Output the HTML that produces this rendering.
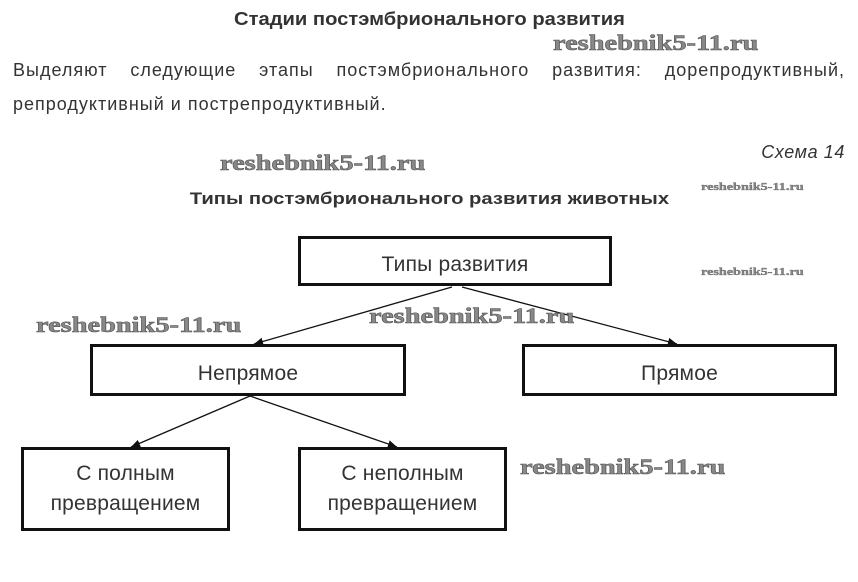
<!DOCTYPE html>
<html><head><meta charset="utf-8"><style>
body{margin:0;width:858px;height:582px;background:#fff;position:relative;overflow:hidden;font-family:"Liberation Sans",sans-serif;color:#222}
.a{position:absolute;white-space:nowrap}
.c{position:absolute;left:0;width:858px;text-align:center;white-space:nowrap}
.c span{display:inline-block}
.w{position:absolute;font-family:"Liberation Serif",serif;font-weight:bold;color:#888;-webkit-text-stroke:0.6px #555;white-space:nowrap;transform:scaleX(1.29);transform-origin:left top}
.box{position:absolute;border:3px solid #111;box-sizing:border-box;display:flex;align-items:center;justify-content:center;text-align:center;font-size:21px;letter-spacing:0.2px;color:#333;line-height:30px;padding-top:8px}
</style></head><body>
<div class="c" style="top:9px;font-size:18px;font-weight:bold;color:#333"><span style="transform:scaleX(1.12)">Стадии постэмбрионального развития</span></div>
<div class="a" style="left:13px;width:832px;top:60px;font-size:18px;letter-spacing:1px;color:#333;text-align:justify;text-align-last:justify">Выделяют следующие этапы постэмбрионального развития: дорепродуктивный,</div>
<div class="a" style="left:13px;top:94px;font-size:18px;letter-spacing:1px;color:#333">репродуктивный и пострепродуктивный.</div>
<div class="a" style="right:13px;top:142px;font-size:18px;letter-spacing:0.6px;font-style:italic;color:#333">Схема 14</div>
<div class="c" style="top:189px;font-size:17px;font-weight:bold;color:#333"><span style="transform:scaleX(1.19)">Типы постэмбрионального развития животных</span></div>
<svg class="a" style="left:0;top:0" width="858" height="582">
<defs><marker id="m" markerWidth="8" markerHeight="8" refX="7" refY="4" orient="auto"><path d="M0,1 L7,4 L0,7 Z" fill="#111"/></marker></defs>
<g stroke="#111" stroke-width="1.3" marker-end="url(#m)">
<line x1="452" y1="287" x2="254" y2="344"/>
<line x1="462" y1="287" x2="677" y2="344"/>
<line x1="250" y1="396" x2="131" y2="447"/>
<line x1="250" y1="396" x2="397" y2="447"/>
</g></svg>
<div class="box" style="left:298px;top:236px;width:314px;height:50px">Типы развития</div>
<div class="box" style="left:90px;top:344px;width:316px;height:52px">Непрямое</div>
<div class="box" style="left:522px;top:344px;width:315px;height:52px">Прямое</div>
<div class="box" style="left:21px;top:447px;width:209px;height:84px;padding-top:0">С полным<br>превращением</div>
<div class="box" style="left:298px;top:447px;width:209px;height:84px;padding-top:0">С неполным<br>превращением</div>
<div class="w" style="left:553px;top:30px;font-size:22px">reshebnik5-11.ru</div>
<div class="w" style="left:220px;top:150px;font-size:22px">reshebnik5-11.ru</div>
<div class="w" style="left:36px;top:312px;font-size:22px">reshebnik5-11.ru</div>
<div class="w" style="left:369px;top:303px;font-size:22px">reshebnik5-11.ru</div>
<div class="w" style="left:520px;top:454px;font-size:22px">reshebnik5-11.ru</div>
<div class="w" style="left:701px;top:181px;font-size:11px;-webkit-text-stroke:0.3px #555">reshebnik5-11.ru</div>
<div class="w" style="left:701px;top:266px;font-size:11px;-webkit-text-stroke:0.3px #555">reshebnik5-11.ru</div>
</body></html>
